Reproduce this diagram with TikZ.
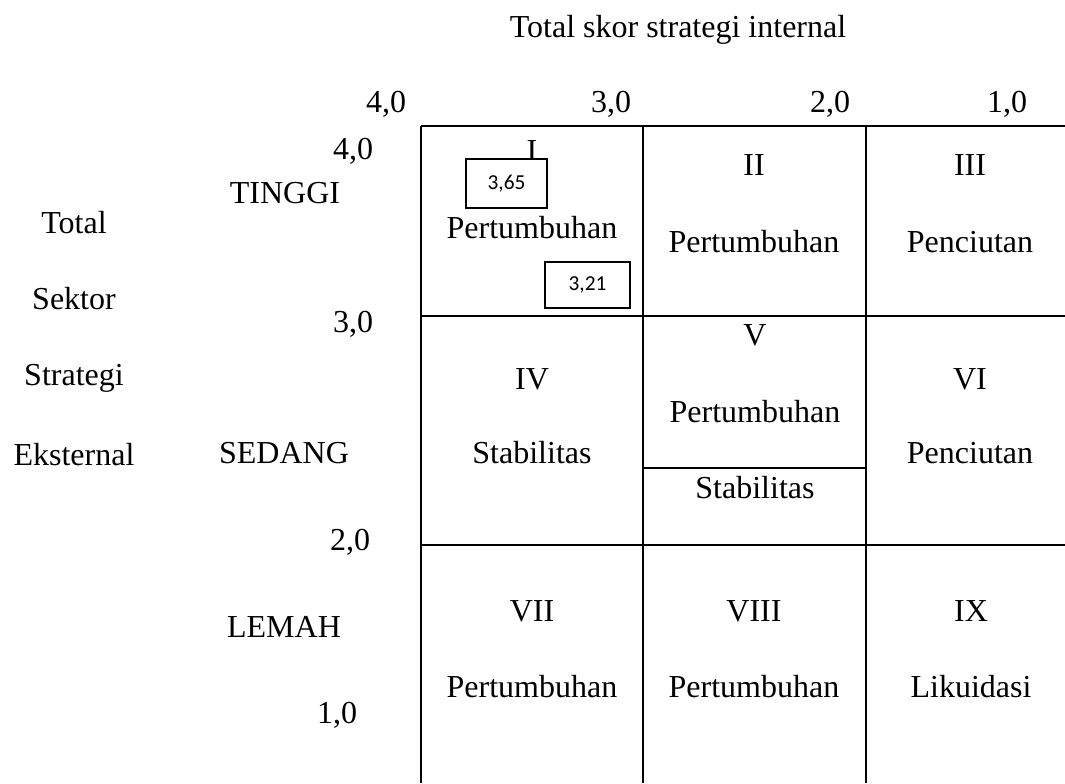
\documentclass[tikz,border=0pt]{standalone}
\usepackage{fontspec}
\setmainfont{Liberation Serif}
\newfontfamily\boxfont{Carlito}
\begin{document}
\begin{tikzpicture}[x=0.75pt,y=-0.75pt,
  lbl/.style={anchor=base,inner sep=0pt,font=\fontsize{24}{28}\selectfont},
  numbox/.style={draw,line width=1pt,fill=white,inner sep=0pt,font=\boxfont\fontsize{16}{19}\selectfont},
  gridline/.style={line width=1.5pt}]
\useasboundingbox (0,0) rectangle (1065,783);
% grid
\coordinate (tl) at (421,126);
\coordinate (tr) at (1065,126);
\coordinate (r1l) at (421,316);
\coordinate (r1r) at (1065,316);
\coordinate (r2l) at (421,545);
\coordinate (r2r) at (1065,545);
\coordinate (c0t) at (421,126);
\coordinate (c0b) at (421,783);
\coordinate (c1t) at (643,126);
\coordinate (c1b) at (643,783);
\coordinate (c2t) at (866,126);
\coordinate (c2b) at (866,783);
\coordinate (vl) at (643,468);
\coordinate (vr) at (866,468);
\draw[gridline] (tl) -- (tr);
\draw[gridline] (r1l) -- (r1r);
\draw[gridline] (r2l) -- (r2r);
\draw[gridline] (c0t) -- (c0b);
\draw[gridline] (c1t) -- (c1b);
\draw[gridline] (c2t) -- (c2b);
\draw[gridline] (vl) -- (vr);
% title and axes
\node[lbl] (title) at (678,37) {Total skor strategi internal};
\node[lbl] (x4) at (386,112) {4,0};
\node[lbl] (x3) at (611,112) {3,0};
\node[lbl] (x2) at (830,112) {2,0};
\node[lbl] (x1) at (1007,112) {1,0};
\node[lbl] (y4) at (353,159) {4,0};
\node[lbl] (y3) at (353,332) {3,0};
\node[lbl] (y2) at (350,550) {2,0};
\node[lbl] (y1) at (337,723) {1,0};
\node[lbl] (tinggi) at (285,203) {TINGGI};
\node[lbl] (sedang) at (284,463) {SEDANG};
\node[lbl] (lemah) at (284,637) {LEMAH};
\node[lbl] (l1) at (74,233) {Total};
\node[lbl] (l2) at (74,309) {Sektor};
\node[lbl] (l3) at (74,385) {Strategi};
\node[lbl] (l4) at (74,465) {Eksternal};
% cells
\node[lbl] (cI) at (532,161) {I};
\node[lbl] (cIt) at (532,238) {Pertumbuhan};
\node[lbl] (cII) at (754,175) {II};
\node[lbl] (cIIt) at (754,252) {Pertumbuhan};
\node[lbl] (cIII) at (970,175) {III};
\node[lbl] (cIIIt) at (970,252) {Penciutan};
\node[lbl] (cIV) at (532,389) {IV};
\node[lbl] (cIVt) at (532,463) {Stabilitas};
\node[lbl] (cV) at (755,345) {V};
\node[lbl] (cVt) at (755,422) {Pertumbuhan};
\node[lbl] (cVs) at (755,498) {Stabilitas};
\node[lbl] (cVI) at (970,389) {VI};
\node[lbl] (cVIt) at (970,463) {Penciutan};
\node[lbl] (cVII) at (532,621) {VII};
\node[lbl] (cVIIt) at (532,697) {Pertumbuhan};
\node[lbl] (cVIII) at (754,621) {VIII};
\node[lbl] (cVIIIt) at (754,697) {Pertumbuhan};
\node[lbl] (cIX) at (971,621) {IX};
\node[lbl] (cIXt) at (971,697) {Likuidasi};
% score boxes
\node[numbox,minimum width=81*0.75pt,minimum height=49*0.75pt] (b1) at (506.5,183.5) {3,65};
\node[numbox,minimum width=85*0.75pt,minimum height=46*0.75pt] (b2) at (587.5,285) {3,21};
\end{tikzpicture}
\end{document}
